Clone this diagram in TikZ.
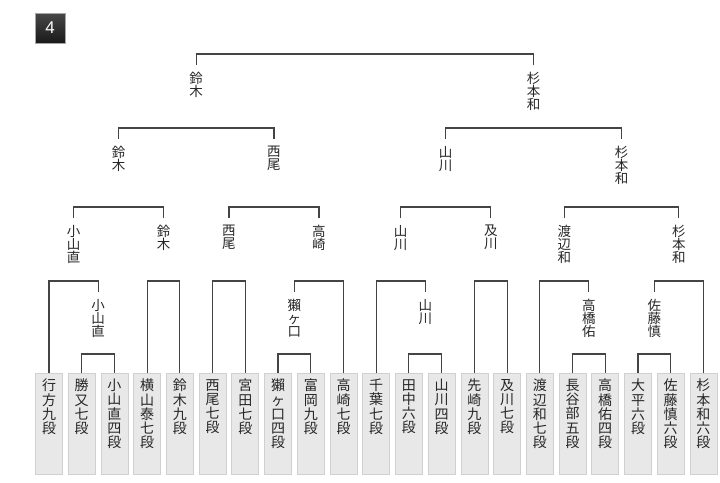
\documentclass[tikz,border=0pt]{standalone}
\usepackage{fontspec}
\newfontfamily\cjk{Noto Sans CJK JP}
\newfontfamily\latn{Liberation Sans}
\newcommand\boxfont{\cjk\fontsize{14}{14.2}\selectfont\lineskiplimit=-10pt\relax}
\newcommand\lblfont{\cjk\fontsize{13.5}{12.9}\selectfont\lineskiplimit=-10pt\relax}
\definecolor{lncol}{HTML}{444444}
\definecolor{boxfill}{HTML}{E8E8E8}
\definecolor{boxline}{HTML}{D0D0D0}
\begin{document}
\begin{tikzpicture}[x=1pt,y=-1pt,
  ln/.style={draw=lncol,line width=1.1pt},
  box/.style={rectangle,draw=boxline,fill=boxfill,line width=0.8pt,minimum width=27pt,minimum height=101pt,anchor=north,inner sep=0pt},
  btxt/.style={anchor=north,inner sep=0pt,align=center,font=\boxfont,text=black!85},
  lbl/.style={anchor=north,inner xsep=0pt,inner ysep=7pt,align=center,font=\lblfont,text=black!85}]
\useasboundingbox (0,0) rectangle (720,482);
% badge
\node[rectangle,draw=black!35,line width=0.6pt,top color=black!72,bottom color=black!90,minimum size=30pt,inner sep=0pt,text=white,font=\latn\fontsize{17}{17}\selectfont] (badge) at (50,28) {4};
% level coordinates
\coordinate (L0) at (0,354);
\coordinate (L1) at (0,281);
\coordinate (L2) at (0,207);
\coordinate (L3) at (0,128);
\coordinate (L4) at (0,54);
% boxes
\node[box] (b0) at (49.0,373) {};
\node[box] (b1) at (81.7,373) {};
\node[box] (b2) at (114.4,373) {};
\node[box] (b3) at (147.2,373) {};
\node[box] (b4) at (179.9,373) {};
\node[box] (b5) at (212.6,373) {};
\node[box] (b6) at (245.3,373) {};
\node[box] (b7) at (278.0,373) {};
\node[box] (b8) at (310.8,373) {};
\node[box] (b9) at (343.5,373) {};
\node[box] (b10) at (376.2,373) {};
\node[box] (b11) at (408.9,373) {};
\node[box] (b12) at (441.6,373) {};
\node[box] (b13) at (474.4,373) {};
\node[box] (b14) at (507.1,373) {};
\node[box] (b15) at (539.8,373) {};
\node[box] (b16) at (572.5,373) {};
\node[box] (b17) at (605.2,373) {};
\node[box] (b18) at (638.0,373) {};
\node[box] (b19) at (670.7,373) {};
\node[box] (b20) at (703.4,373) {};
% box texts
\node[btxt] (t0) at ([yshift=-6pt]b0.north) {行\\方\\九\\段};
\node[btxt] (t1) at ([yshift=-6pt]b1.north) {勝\\又\\七\\段};
\node[btxt] (t2) at ([yshift=-6pt]b2.north) {小\\山\\直\\四\\段};
\node[btxt] (t3) at ([yshift=-6pt]b3.north) {横\\山\\泰\\七\\段};
\node[btxt] (t4) at ([yshift=-6pt]b4.north) {鈴\\木\\九\\段};
\node[btxt] (t5) at ([yshift=-6pt]b5.north) {西\\尾\\七\\段};
\node[btxt] (t6) at ([yshift=-6pt]b6.north) {宮\\田\\七\\段};
\node[btxt] (t7) at ([yshift=-6pt]b7.north) {獺\\ヶ\\口\\四\\段};
\node[btxt] (t8) at ([yshift=-6pt]b8.north) {富\\岡\\九\\段};
\node[btxt] (t9) at ([yshift=-6pt]b9.north) {高\\崎\\七\\段};
\node[btxt] (t10) at ([yshift=-6pt]b10.north) {千\\葉\\七\\段};
\node[btxt] (t11) at ([yshift=-6pt]b11.north) {田\\中\\六\\段};
\node[btxt] (t12) at ([yshift=-6pt]b12.north) {山\\川\\四\\段};
\node[btxt] (t13) at ([yshift=-6pt]b13.north) {先\\崎\\九\\段};
\node[btxt] (t14) at ([yshift=-6pt]b14.north) {及\\川\\七\\段};
\node[btxt] (t15) at ([yshift=-6pt]b15.north) {渡\\辺\\和\\七\\段};
\node[btxt] (t16) at ([yshift=-6pt]b16.north) {長\\谷\\部\\五\\段};
\node[btxt] (t17) at ([yshift=-6pt]b17.north) {高\\橋\\佑\\四\\段};
\node[btxt] (t18) at ([yshift=-6pt]b18.north) {大\\平\\六\\段};
\node[btxt] (t19) at ([yshift=-6pt]b19.north) {佐\\藤\\慎\\六\\段};
\node[btxt] (t20) at ([yshift=-6pt]b20.north) {杉\\本\\和\\六\\段};
% round 2 labels (prelim winners)
\node[lbl] (p1) at (98.05,292) {小\\山\\直};
\node[lbl] (p2) at (294.4,292) {獺\\ヶ\\口};
\node[lbl] (p3) at (425.25,292) {山\\川};
\node[lbl] (p4) at (588.85,292) {高\\橋\\佑};
\node[lbl] (p5) at (654.35,292) {佐\\藤\\慎};
% round 3 labels
\node[lbl] (q1) at (73.5,218) {小\\山\\直};
\node[lbl] (q2) at (163.55,218) {鈴\\木};
\node[lbl] (q3) at (228.95,218) {西\\尾};
\node[lbl] (q4) at (318.95,218) {高\\崎};
\node[lbl] (q5) at (400.7,218) {山\\川};
\node[lbl] (q6) at (490.75,218) {及\\川};
\node[lbl] (q7) at (564.3,218) {渡\\辺\\和};
\node[lbl] (q8) at (678.9,218) {杉\\本\\和};
% round 4 labels
\node[lbl] (r1) at (118.5,139) {鈴\\木};
\node[lbl] (r2) at (273.95,139) {西\\尾};
\node[lbl] (r3) at (445.7,139) {山\\川};
\node[lbl] (r4) at (621.6,139) {杉\\本\\和};
% final labels
\node[lbl] (s1) at (196.2,65) {鈴\\木};
\node[lbl] (s2) at (533.65,65) {杉\\本\\和};
% prelim brackets
\draw[ln] (b1.north) |- (L0 -| b2.north) -- (b2.north);
\draw[ln] (b7.north) |- (L0 -| b8.north) -- (b8.north);
\draw[ln] (b11.north) |- (L0 -| b12.north) -- (b12.north);
\draw[ln] (b16.north) |- (L0 -| b17.north) -- (b17.north);
\draw[ln] (b18.north) |- (L0 -| b19.north) -- (b19.north);
% round 2 brackets
\draw[ln] (b0.north) |- (L1 -| p1.north) -- (p1.north);
\draw[ln] (b3.north) |- (L1 -| b4.north) -- (b4.north);
\draw[ln] (b5.north) |- (L1 -| b6.north) -- (b6.north);
\draw[ln] (p2.north) |- (L1 -| b9.north) -- (b9.north);
\draw[ln] (b10.north) |- (L1 -| p3.north) -- (p3.north);
\draw[ln] (b13.north) |- (L1 -| b14.north) -- (b14.north);
\draw[ln] (b15.north) |- (L1 -| p4.north) -- (p4.north);
\draw[ln] (p5.north) |- (L1 -| b20.north) -- (b20.north);
% round 3 brackets
\draw[ln] (q1.north) |- (L2 -| q2.north) -- (q2.north);
\draw[ln] (q3.north) |- (L2 -| q4.north) -- (q4.north);
\draw[ln] (q5.north) |- (L2 -| q6.north) -- (q6.north);
\draw[ln] (q7.north) |- (L2 -| q8.north) -- (q8.north);
% round 4 brackets
\draw[ln] (r1.north) |- (L3 -| r2.north) -- (r2.north);
\draw[ln] (r3.north) |- (L3 -| r4.north) -- (r4.north);
% final
\draw[ln] (s1.north) |- (L4 -| s2.north) -- (s2.north);
\end{tikzpicture}
\end{document}
